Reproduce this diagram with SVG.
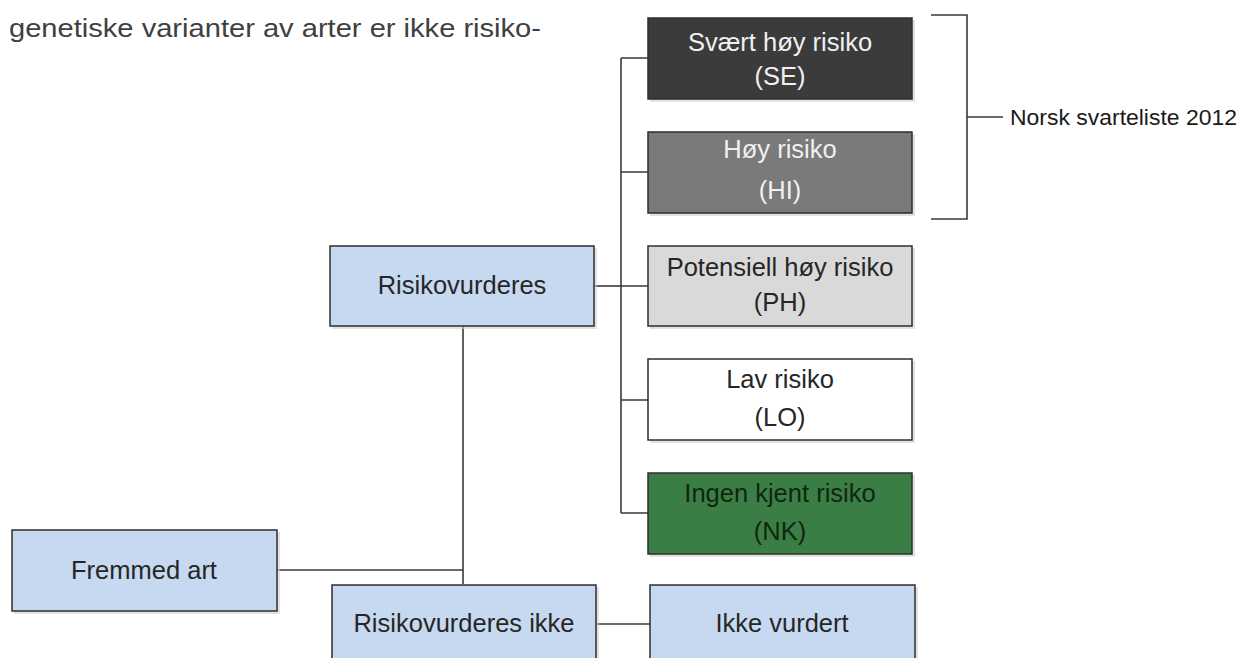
<svg xmlns="http://www.w3.org/2000/svg" width="1242" height="658" viewBox="0 0 1242 658">
<style>
  .box { stroke: #2e2e2e; stroke-width: 1.5; }
  .shadow { fill: #cfcfcf; opacity: 0.6; }
  .blue { fill: #c6d9f0; }
  .t { font-family: "Liberation Sans", Arial, sans-serif; font-size: 25.5px; text-anchor: middle; }
  .dark { fill: #262626; }
  .light { fill: #f0f0f0; }
  .conn { fill: none; stroke: #3a3a3a; stroke-width: 1.6; }
</style>
<rect width="1242" height="658" fill="#ffffff"/>
<text x="9" y="37" font-family="'Liberation Sans', Arial, sans-serif" font-size="26" fill="#404040" textLength="532" lengthAdjust="spacingAndGlyphs">genetiske varianter av arter er ikke risiko-</text>

<g id="connectors">
  <path class="conn" d="M621,58 V513"/>
  <path class="conn" d="M621,58 H648 M621,172 H648 M621,286 H648 M621,400 H648 M621,513 H648"/>
  <path class="conn" d="M594,286 H621"/>
  <path class="conn" stroke="#555" d="M463,326 V584"/>
  <path class="conn" d="M277,570 H463"/>
  <path class="conn" d="M596,624 H650"/>
  <path class="conn" stroke="#555" d="M931,15 H967 V219 H931"/>
  <path class="conn" d="M967,117 H1003"/>
</g>

<g id="label-svarteliste">
  <text x="1010" y="125" font-family="'Liberation Sans', Arial, sans-serif" font-size="22" fill="#1a1a1a" textLength="227" lengthAdjust="spacingAndGlyphs">Norsk svarteliste 2012</text>
</g>

<g id="node-se">
  <rect class="shadow" x="650" y="20" width="265" height="82"/>
  <rect class="box" x="648" y="18" width="264" height="81" fill="#3b3b3b"/>
  <text class="t light" x="780" y="51">Svært høy risiko</text>
  <text class="t light" x="780" y="85">(SE)</text>
</g>

<g id="node-hi">
  <rect class="shadow" x="650" y="134" width="265" height="82"/>
  <rect class="box" x="648" y="132" width="264" height="81" fill="#7a7a7a"/>
  <text class="t light" x="780" y="158">Høy risiko</text>
  <text class="t light" x="780" y="199">(HI)</text>
</g>

<g id="node-ph">
  <rect class="shadow" x="650" y="248" width="265" height="81"/>
  <rect class="box" x="648" y="246" width="264" height="80" fill="#d9d9d9"/>
  <text class="t dark" x="780" y="276">Potensiell høy risiko</text>
  <text class="t dark" x="780" y="311">(PH)</text>
</g>

<g id="node-lo">
  <rect class="shadow" x="650" y="361" width="265" height="82"/>
  <rect class="box" x="648" y="359" width="264" height="81" fill="#ffffff"/>
  <text class="t dark" x="780" y="388">Lav risiko</text>
  <text class="t dark" x="780" y="426">(LO)</text>
</g>

<g id="node-nk">
  <rect class="shadow" x="650" y="475" width="265" height="82"/>
  <rect class="box" x="648" y="473" width="264" height="81" fill="#3b7e45"/>
  <text class="t" fill="#10260f" x="780" y="502">Ingen kjent risiko</text>
  <text class="t" fill="#10260f" x="780" y="540">(NK)</text>
</g>

<g id="node-risikovurderes">
  <rect class="shadow" x="332" y="248" width="265" height="81"/>
  <rect class="box blue" x="330" y="246" width="264" height="80"/>
  <text class="t dark" x="462" y="294">Risikovurderes</text>
</g>

<g id="node-fremmed">
  <rect class="shadow" x="14" y="532" width="266" height="82"/>
  <rect class="box blue" x="12" y="530" width="265" height="81"/>
  <text class="t dark" x="144" y="579">Fremmed art</text>
</g>

<g id="node-ikke">
  <rect class="shadow" x="334" y="587" width="265" height="80"/>
  <rect class="box blue" x="332" y="585" width="264" height="80"/>
  <text class="t dark" x="464" y="632">Risikovurderes  ikke</text>
</g>

<g id="node-ikkevurdert">
  <rect class="shadow" x="652" y="587" width="266" height="80"/>
  <rect class="box blue" x="650" y="585" width="265" height="80"/>
  <text class="t dark" x="782" y="632">Ikke vurdert</text>
</g>
</svg>
